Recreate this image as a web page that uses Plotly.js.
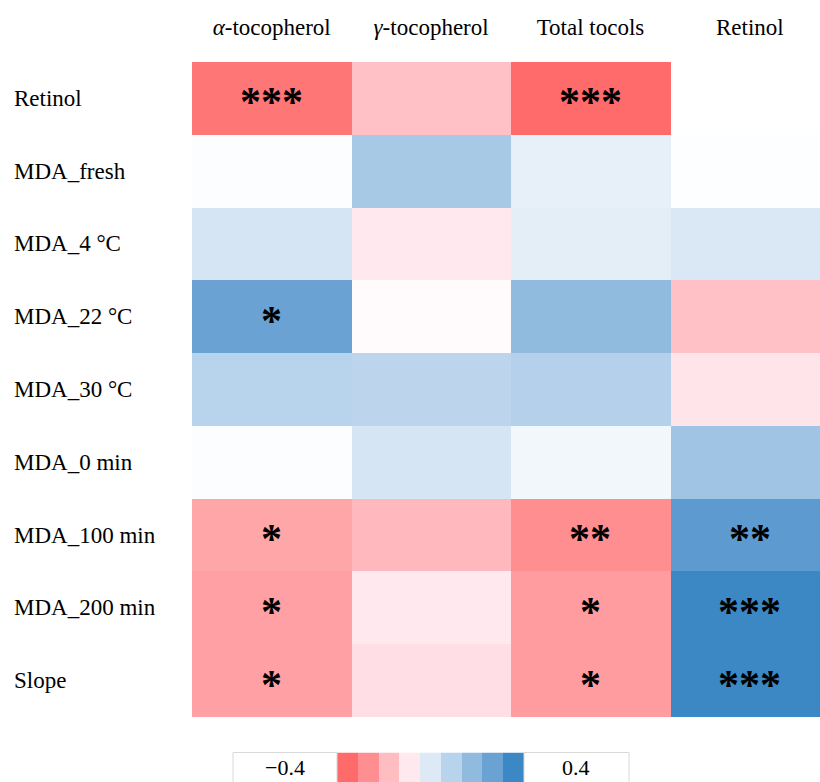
<!DOCTYPE html>
<html>
<head>
<meta charset="utf-8">
<script src="https://cdn.plot.ly/plotly-3.0.1.min.js"></script>
<style>html,body{margin:0;padding:0;background:#fff;}#chart{width:820px;height:782px;}</style>
</head>
<body>
<div id="chart"></div>
<script>
// Columns (tick labels) and rows
var columns = ["α-tocopherol", "γ-tocopherol", "Total tocols", "Retinol"];
var columnLabels = ["<i>α</i>-tocopherol", "<i>γ</i>-tocopherol", "Total tocols", "Retinol"];
var rows = ["Retinol", "MDA_fresh", "MDA_4 °C", "MDA_22 °C", "MDA_30 °C", "MDA_0 min", "MDA_100 min", "MDA_200 min", "Slope"];

// Correlation values per column
var alphaToc = [-0.37, 0.01, 0.12, 0.40, 0.20, 0.01, -0.25, -0.26, -0.26];
var gammaToc = [-0.19, 0.24, -0.10, -0.02, 0.19, 0.12, -0.21, -0.10, -0.12];
var totalTocols = [-0.40, 0.07, 0.08, 0.30, 0.21, 0.04, -0.30, -0.27, -0.27];
var retinol = [null, 0.005, 0.11, -0.19, -0.11, 0.26, 0.43, 0.50, 0.50];

// Significance marks per column
var starsAlpha = ["***", "", "", "*", "", "", "*", "*", "*"];
var starsGamma = ["", "", "", "", "", "", "", "", ""];
var starsTotal = ["***", "", "", "", "", "", "**", "*", "*"];
var starsRetinol = ["", "", "", "", "", "", "**", "***", "***"];

// Colour key bins and end labels
var keyValues = [-0.4, -0.3, -0.2, -0.1, 0.1, 0.2, 0.3, 0.4, 0.5];
var keyLabels = ["−0.4", "0.4"];

var colsData = [alphaToc, gammaToc, totalTocols, retinol];
var colsStars = [starsAlpha, starsGamma, starsTotal, starsRetinol];

var z = rows.map(function(r, i){ return colsData.map(function(c){ return c[i]; }); });

var colorscale = [
  [0, '#FF6060'], [0.1, '#FF6B6B'], [0.2, '#FF8E90'], [0.3, '#FFBDC2'], [0.4, '#FFE8EE'],
  [0.5, '#FFFFFF'], [0.6, '#DDEAF5'], [0.7, '#B8D3EC'], [0.8, '#90BADE'], [0.9, '#6BA2D4'], [1, '#3B88C5']
];

var FONT = '"Liberation Serif", serif';

var main = {
  type: 'heatmap', x: columns, y: rows, z: z,
  colorscale: colorscale, zmin: -0.5, zmax: 0.5, showscale: false,
  xaxis: 'x', yaxis: 'y', hoverongaps: false
};
var key = {
  type: 'heatmap', x: keyValues.map(function(v, i){ return i; }), y: [0], z: [keyValues],
  colorscale: colorscale, zmin: -0.5, zmax: 0.5, showscale: false,
  xaxis: 'x2', yaxis: 'y2'
};

var W = 820, H = 782;
var annotations = [];
rows.forEach(function(r){
  annotations.push({x: 12 / W, xref: 'paper', y: r, yref: 'y', text: r, showarrow: false,
    xanchor: 'left', yanchor: 'middle', font: {family: FONT, size: 23, color: '#000'}});
});
colsStars.forEach(function(col, j){
  col.forEach(function(s, i){
    if (s) annotations.push({x: columns[j], y: rows[i], xref: 'x', yref: 'y', text: s, showarrow: false,
      yshift: -4, font: {family: FONT, size: 42, color: '#000', weight: 'bold'}});
  });
});
annotations.push({x: 285 / W, xref: 'paper', y: 1 - 767 / H, yref: 'paper', text: keyLabels[0], showarrow: false,
  xanchor: 'center', yanchor: 'middle', font: {family: FONT, size: 22, color: '#000'}});
annotations.push({x: 576 / W, xref: 'paper', y: 1 - 767 / H, yref: 'paper', text: keyLabels[1], showarrow: false,
  xanchor: 'center', yanchor: 'middle', font: {family: FONT, size: 22, color: '#000'}});

var shapes = [
  {type: 'rect', xref: 'paper', yref: 'paper', x0: 233 / W, x1: 337 / W, y0: -0.02, y1: 1 - 752.5 / H,
   line: {color: '#D9D9D9', width: 1}, fillcolor: 'rgba(0,0,0,0)'},
  {type: 'rect', xref: 'paper', yref: 'paper', x0: 524 / W, x1: 629 / W, y0: -0.02, y1: 1 - 752.5 / H,
   line: {color: '#D9D9D9', width: 1}, fillcolor: 'rgba(0,0,0,0)'}
];

var layout = {
  width: W, height: H, margin: {l: 0, r: 0, t: 0, b: 0},
  paper_bgcolor: '#fff', plot_bgcolor: '#fff', showlegend: false,
  font: {family: FONT, color: '#000'},
  xaxis: {domain: [192 / W, 1], range: [-0.5, 3.44], side: 'top', showgrid: false, zeroline: false, showline: false,
    ticks: 'outside', ticklen: 17, tickcolor: 'rgba(0,0,0,0)', tickvals: columns, ticktext: columnLabels,
    tickfont: {family: FONT, size: 23, color: '#000'}, fixedrange: true},
  yaxis: {domain: [1 - 717 / H, 1 - 62 / H], range: [8.5, -0.5], showgrid: false, zeroline: false, showline: false,
    showticklabels: false, ticks: '', fixedrange: true},
  xaxis2: {domain: [337 / W, 524 / W], anchor: 'y2', range: [-0.5, 8.5], visible: false, fixedrange: true},
  yaxis2: {domain: [0, 1 - 752.5 / H], anchor: 'x2', range: [-0.5, 0.5], visible: false, fixedrange: true},
  annotations: annotations, shapes: shapes
};

Plotly.newPlot('chart', [main, key], layout, {displayModeBar: false, staticPlot: true});
</script>
</body>
</html>
